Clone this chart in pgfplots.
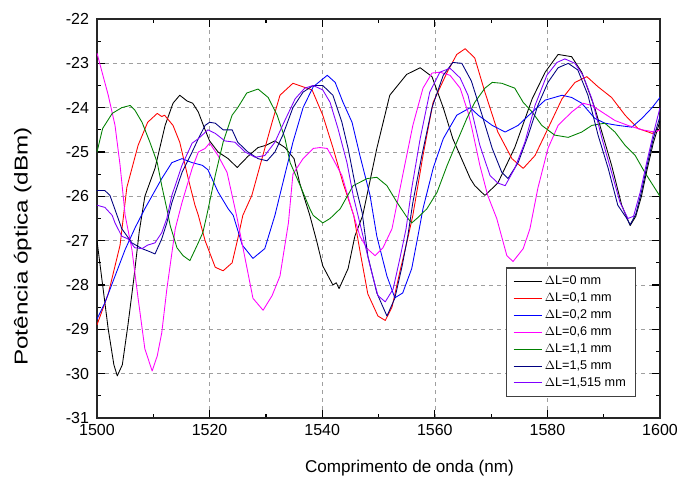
\documentclass[border=0pt]{standalone}
\usepackage{fontspec}
\setmainfont{Liberation Sans}
\newfontfamily\ylabfont[FakeStretch=1.3]{Liberation Sans}
\usepackage{pgfplots}
\pgfplotsset{compat=1.18}
\usetikzlibrary{calc}
\definecolor{cblack}{RGB}{0,0,0}
\definecolor{cred}{RGB}{255,0,0}
\definecolor{cblue}{RGB}{0,0,255}
\definecolor{cmag}{RGB}{255,0,255}
\definecolor{cgreen}{RGB}{0,128,0}
\definecolor{cnavy}{RGB}{0,0,128}
\definecolor{cviolet}{RGB}{128,0,255}
\begin{document}
\begin{tikzpicture}
\begin{axis}[
  name=ax,
  scale only axis, width=422.25pt, height=299.25pt,
  xmin=1500, xmax=1600, ymin=-31, ymax=-22,
  xtick={1500,1520,...,1600}, ytick={-31,-30,...,-22},
  minor x tick num=1, minor y tick num=1,
  major tick length=6pt, minor tick length=3pt,
  grid=major, major grid style={dashed, gray!75, line width=0.45pt},
  axis line style={line width=1.1pt, black!85},
  tick style={line width=0.9pt, black},
  xlabel={Comprimento de onda (nm)}, ylabel={Potência óptica (dBm)},
  xlabel style={at={(axis description cs:0.555,-0.125)}, anchor=center, font=\fontsize{12.8}{15}\selectfont},
  ylabel style={at={(axis description cs:-0.132,0.43)}, anchor=center, font=\ylabfont\fontsize{14}{15}\selectfont},
  tick label style={font=\fontsize{12}{13}\selectfont},
  xticklabel style={yshift=-1.5pt},
  yticklabel style={xshift=-2.5pt},
  /pgf/number format/assume math mode=true,
  /pgf/number format/1000 sep={},
  legend style={at={(0.957,0.053)}, anchor=south east, font=\fontsize{9.5}{11}\selectfont,
    draw=black!75, line width=0.9pt, fill=white, inner xsep=5pt, inner ysep=4pt, row sep=0.6pt},
  legend cell align=left,
  legend image code/.code={\draw[#1] (0pt,0pt) -- (21pt,0pt);},
  every axis plot/.append style={line width=0.65pt, line join=round},
]
\addplot[draw=cblack] coordinates {(1500,-27.0) (1501,-28.0) (1502,-29.0) (1503,-29.8) (1503.6,-30.05) (1504.5,-29.8) (1505.5,-28.9) (1506.5,-27.9) (1507.5,-26.8) (1508.5,-26.0) (1510.3,-25.37) (1512.1,-24.4) (1513.5,-23.9) (1514.7,-23.72) (1516,-23.85) (1517,-23.9) (1518,-24.1) (1519.2,-24.5) (1520,-24.75) (1521.5,-25.0) (1523.3,-25.15) (1524.9,-25.35) (1526.8,-25.1) (1528.6,-24.9) (1530,-24.85) (1531.6,-24.75) (1533.4,-24.9) (1535,-25.15) (1536,-25.7) (1537.8,-26.43) (1539,-27.0) (1540.1,-27.57) (1541.9,-28.0) (1542.5,-27.95) (1543,-28.08) (1544.6,-27.63) (1545.8,-26.9) (1547.2,-26.43) (1549.7,-24.92) (1552,-23.72) (1555,-23.25) (1557.4,-23.1) (1559.5,-23.3) (1561.5,-24.0) (1563.2,-24.7) (1566.3,-25.6) (1567.1,-25.76) (1568.9,-25.98) (1571.2,-25.7) (1574.2,-24.9) (1577.3,-23.8) (1579.6,-23.2) (1581.9,-22.8) (1584.3,-22.85) (1586.1,-23.2) (1588.4,-24.0) (1591.4,-25.3) (1593.2,-26.2) (1594.7,-26.66) (1595.7,-26.45) (1596.7,-26.0) (1597.7,-25.4) (1598.8,-24.8) (1600,-24.3)};
\addlegendentry{$\Delta$L=0 mm}
\addplot[draw=cred] coordinates {(1500,-28.9) (1502,-28.2) (1504.1,-27.1) (1505.3,-25.8) (1507.3,-24.85) (1509,-24.33) (1510.7,-24.13) (1511.5,-24.2) (1512,-24.17) (1513.5,-24.4) (1514.7,-24.78) (1516.2,-25.6) (1517.4,-26.2) (1518,-26.43) (1519.2,-27.0) (1521,-27.6) (1522.4,-27.68) (1524,-27.5) (1525,-26.96) (1525.9,-26.43) (1527.5,-25.98) (1529.3,-25.15) (1531.1,-24.33) (1532.5,-23.72) (1534.8,-23.45) (1536.6,-23.53) (1538.2,-23.6) (1540.1,-24.17) (1541.9,-24.9) (1543.7,-25.7) (1545.6,-26.43) (1546.8,-27.3) (1548.1,-28.2) (1549.9,-28.7) (1551.2,-28.8) (1552.4,-28.5) (1553.8,-27.7) (1555.1,-27.0) (1556.1,-26.43) (1557.9,-25.08) (1559.7,-23.88) (1562.2,-23.2) (1563.9,-22.8) (1565.4,-22.67) (1567.1,-22.88) (1568.9,-23.65) (1571.2,-24.55) (1573.7,-25.15) (1575.7,-25.37) (1577.8,-25.08) (1580.1,-24.47) (1582.6,-23.8) (1584.9,-23.43) (1587,-23.3) (1589,-23.53) (1591.4,-23.77) (1593.8,-24.17) (1596.1,-24.47) (1598.6,-24.58) (1600,-24.5)};
\addlegendentry{$\Delta$L=0,1 mm}
\addplot[draw=cblue] coordinates {(1500,-28.77) (1501.4,-28.4) (1503.2,-27.8) (1505,-27.2) (1506.8,-26.7) (1508.5,-26.28) (1511.5,-25.6) (1513.3,-25.24) (1515.1,-25.15) (1516.9,-25.24) (1518.7,-25.3) (1519.7,-25.4) (1521.5,-25.9) (1523.3,-26.28) (1524.2,-26.43) (1525.8,-27.1) (1527.7,-27.4) (1529.8,-27.18) (1531.6,-26.43) (1533.2,-25.6) (1534.8,-24.78) (1536.6,-24.0) (1538.4,-23.53) (1540.9,-23.27) (1542.3,-23.43) (1543.7,-23.88) (1545.3,-24.33) (1546.7,-25.08) (1548.5,-25.98) (1549.7,-26.9) (1551.5,-27.8) (1552.9,-28.29) (1554.3,-28.18) (1555.9,-27.63) (1557,-26.9) (1557.9,-26.28) (1559.7,-25.37) (1561.5,-24.7) (1563.9,-24.17) (1566.3,-24.0) (1567.7,-24.17) (1570.2,-24.4) (1572.5,-24.55) (1574.8,-24.4) (1577.3,-24.1) (1579.6,-23.83) (1582.6,-23.72) (1584.3,-23.77) (1586.1,-23.9) (1588.4,-24.24) (1590.2,-24.35) (1592.5,-24.4) (1595,-24.44) (1596.8,-24.24) (1598.6,-24.0) (1600,-23.77)};
\addlegendentry{$\Delta$L=0,2 mm}
\addplot[draw=cmag] coordinates {(1500,-22.77) (1500.9,-23.2) (1502,-23.72) (1503.2,-24.4) (1504.1,-25.3) (1505,-26.43) (1506.2,-27.2) (1507.3,-28.3) (1508.5,-29.44) (1509.8,-29.94) (1510.7,-29.6) (1511.5,-29.08) (1512.4,-28.1) (1513.9,-26.73) (1515.1,-26.14) (1516.9,-25.37) (1518,-25.0) (1519.2,-24.92) (1520,-24.8) (1521.5,-25.08) (1523.1,-25.46) (1524,-25.98) (1524.9,-26.5) (1526.3,-27.4) (1527.7,-28.3) (1529.5,-28.57) (1531.1,-28.24) (1532.5,-27.8) (1534,-26.6) (1534.8,-25.5) (1536.6,-25.15) (1538.4,-24.92) (1539.6,-24.9) (1540.9,-24.92) (1541.9,-25.15) (1543.5,-25.53) (1544.9,-26.14) (1546.7,-26.9) (1548,-27.18) (1549.4,-27.34) (1550.8,-27.16) (1552.4,-26.73) (1554.4,-25.46) (1556.1,-24.4) (1557.9,-23.56) (1559.5,-23.22) (1560.9,-23.2) (1562.7,-23.27) (1564.5,-23.56) (1565.9,-24.1) (1566.6,-24.47) (1568,-25.3) (1569.4,-25.98) (1571,-26.5) (1572.8,-27.34) (1573.9,-27.47) (1575.7,-27.18) (1576.9,-26.73) (1578.3,-25.82) (1580.1,-24.92) (1581.9,-24.4) (1584.3,-24.1) (1586.3,-23.9) (1587.9,-23.95) (1589.7,-24.1) (1592,-24.29) (1594.3,-24.4) (1596.8,-24.5) (1599.1,-24.55) (1600,-24.5)};
\addlegendentry{$\Delta$L=0,6 mm}
\addplot[draw=cgreen] coordinates {(1500,-25.0) (1501,-24.47) (1502.7,-24.13) (1504.4,-24.0) (1505.9,-23.95) (1506.7,-24.05) (1508,-24.33) (1509.4,-24.78) (1510.7,-25.24) (1511.5,-25.76) (1512.4,-26.28) (1513,-26.66) (1514.2,-27.16) (1515.3,-27.34) (1516.5,-27.45) (1517.8,-27.1) (1518.8,-26.82) (1519.5,-26.43) (1521,-25.53) (1522.4,-24.78) (1524,-24.17) (1525,-24.0) (1526.6,-23.67) (1528.6,-23.58) (1530.4,-23.77) (1532,-24.17) (1533.4,-24.7) (1534.3,-25.24) (1536.1,-25.76) (1537.8,-26.28) (1538.4,-26.43) (1540.1,-26.6) (1541.4,-26.5) (1543.2,-26.28) (1545.5,-25.76) (1548,-25.6) (1549.7,-25.57) (1551.5,-25.76) (1553.3,-26.14) (1555.1,-26.48) (1555.9,-26.6) (1557,-26.48) (1558.6,-26.28) (1560.4,-25.91) (1562.2,-25.3) (1563.9,-24.78) (1565.7,-24.24) (1567.1,-23.88) (1568.9,-23.56) (1570.2,-23.43) (1571.9,-23.45) (1574.2,-23.56) (1575.7,-23.88) (1577.3,-24.1) (1579,-24.4) (1581.3,-24.62) (1583.7,-24.67) (1586.1,-24.55) (1587.9,-24.4) (1590.2,-24.35) (1592,-24.55) (1593.8,-24.85) (1595.6,-25.08) (1597.3,-25.46) (1599.1,-25.82) (1600,-26.0)};
\addlegendentry{$\Delta$L=1,1 mm}
\addplot[draw=cnavy] coordinates {(1500,-25.87) (1501.4,-25.87) (1502.3,-25.98) (1503.2,-26.3) (1504.4,-26.73) (1506.2,-27.05) (1508,-27.18) (1509.4,-27.25) (1510.3,-27.3) (1511.5,-26.96) (1512.4,-26.6) (1513.3,-26.14) (1515.1,-25.46) (1516.9,-25.0) (1518,-24.7) (1519.2,-24.4) (1520,-24.33) (1521,-24.35) (1522.4,-24.5) (1524,-24.5) (1525,-24.78) (1526.8,-25.0) (1528.6,-25.15) (1530.2,-25.2) (1531.6,-25.0) (1533,-24.62) (1534.8,-24.0) (1536.6,-23.65) (1538.4,-23.5) (1540.1,-23.5) (1541.9,-23.72) (1543.5,-24.33) (1544.6,-24.92) (1545.8,-25.7) (1547.1,-26.37) (1548.1,-27.34) (1549.7,-28.18) (1551.5,-28.7) (1552.9,-28.3) (1554.2,-27.57) (1555.2,-26.9) (1556.1,-26.14) (1557.7,-25.08) (1559.5,-24.0) (1561.5,-23.27) (1563.2,-22.98) (1564.8,-23.0) (1566.5,-23.4) (1568.4,-24.17) (1570.2,-24.92) (1571.9,-25.46) (1573,-25.6) (1574.8,-25.24) (1576.6,-24.62) (1578.3,-23.95) (1580.1,-23.43) (1581.9,-23.1) (1583.7,-23.0) (1585.4,-23.15) (1587.2,-23.72) (1589,-24.62) (1590.8,-25.37) (1592.5,-26.2) (1594.1,-26.5) (1594.7,-26.64) (1595.7,-26.4) (1596.7,-25.9) (1597.7,-25.3) (1598.8,-24.7) (1600,-24.2)};
\addlegendentry{$\Delta$L=1,5 mm}
\addplot[draw=cviolet] coordinates {(1500,-26.2) (1501.4,-26.25) (1502.7,-26.43) (1503.2,-26.6) (1504.4,-26.9) (1505.5,-26.96) (1506.7,-27.16) (1508,-27.18) (1509,-27.1) (1510.3,-27.05) (1511.5,-26.82) (1512.4,-26.5) (1513.3,-25.98) (1515.1,-25.3) (1516.9,-24.8) (1518,-24.7) (1519.7,-24.5) (1521,-24.58) (1522.7,-24.75) (1524.5,-24.78) (1526.3,-25.0) (1528.1,-25.12) (1529.8,-25.08) (1531.6,-24.78) (1533.4,-24.28) (1535.2,-23.8) (1536.9,-23.56) (1538.4,-23.5) (1540.1,-23.6) (1541.4,-23.88) (1542.8,-24.47) (1544.4,-25.24) (1545.5,-25.98) (1547.1,-26.82) (1548.5,-27.57) (1549.9,-28.24) (1551.2,-28.38) (1552.6,-28.09) (1553.8,-27.4) (1554.9,-26.73) (1555.9,-25.82) (1557.4,-24.7) (1559.1,-23.65) (1560.9,-23.2) (1562.7,-23.11) (1564.5,-23.33) (1565.9,-23.72) (1566.6,-24.1) (1568,-24.85) (1569.8,-25.53) (1571.2,-25.7) (1572.5,-25.76) (1574.2,-25.37) (1576,-24.78) (1577.8,-23.95) (1579.9,-23.27) (1581.7,-22.98) (1583.1,-22.9) (1584.9,-23.0) (1586.3,-23.27) (1587.9,-23.8) (1589.7,-24.7) (1591.4,-25.46) (1592.9,-26.14) (1594.3,-26.5) (1595.3,-26.45) (1596.5,-25.9) (1597.7,-25.2) (1598.8,-24.6) (1600,-24.0)};
\addlegendentry{$\Delta$L=1,515 mm}
\end{axis}
\pgfresetboundingbox
\path[use as bounding box] ($(ax.south west)+(-72.75pt,-44.25pt)$) rectangle ($(ax.north east)+(15.75pt,14.25pt)$);
\end{tikzpicture}
\end{document}
